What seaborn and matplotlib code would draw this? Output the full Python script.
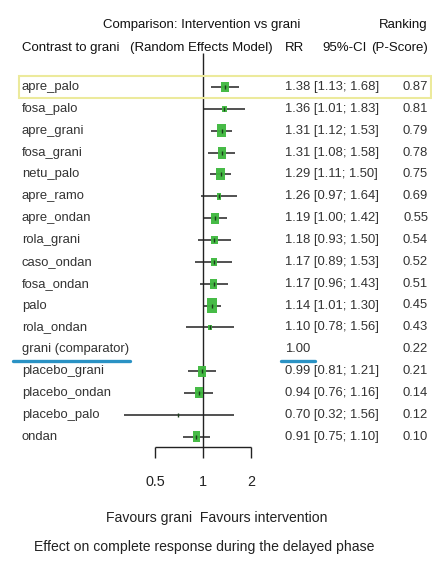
import numpy as np
import pandas as pd
import matplotlib
matplotlib.use("Agg")
import matplotlib.pyplot as plt
import seaborn as sns
from matplotlib.patches import Rectangle
from matplotlib.lines import Line2D
from matplotlib import font_manager as fm

# ---------------- data ----------------
labels = ["apre_palo", "fosa_palo", "apre_grani", "fosa_grani", "netu_palo",
          "apre_ramo", "apre_ondan", "rola_grani", "caso_ondan", "fosa_ondan",
          "palo", "rola_ondan", "grani (comparator)", "placebo_grani",
          "placebo_ondan", "placebo_palo", "ondan"]
rr = [1.38, 1.36, 1.31, 1.31, 1.29, 1.26, 1.19, 1.18, 1.17, 1.17,
      1.14, 1.10, 1.00, 0.99, 0.94, 0.70, 0.91]
ci_low = [1.13, 1.01, 1.12, 1.08, 1.11, 0.97, 1.00, 0.93, 0.89, 0.96,
          1.01, 0.78, np.nan, 0.81, 0.76, 0.32, 0.75]
ci_high = [1.68, 1.83, 1.53, 1.58, 1.50, 1.64, 1.42, 1.50, 1.53, 1.43,
           1.30, 1.56, np.nan, 1.21, 1.16, 1.56, 1.10]
pscore = [0.87, 0.81, 0.79, 0.78, 0.75, 0.69, 0.55, 0.54, 0.52, 0.51,
          0.45, 0.43, 0.22, 0.21, 0.14, 0.12, 0.10]
weights = [10, 3.6, 14.4, 12, 12, 3.6, 10, 6.4, 5, 8,
           19.6, 2.5, np.nan, 10, 10, 0.3, 10]
xticks = [0.5, 1, 2]
xtick_labels = ["0.5", "1", "2"]

df = pd.DataFrame({"label": labels, "rr": rr, "lo": ci_low, "hi": ci_high,
                   "p": pscore, "w": weights})
df["row"] = np.arange(len(df))

# ---------------- fonts ----------------
W, H = 432, 567
sns.set_theme(style="white")
FAMILY = ["Liberation Sans", "DejaVu Sans"]
plt.rcParams["font.family"] = FAMILY


def fprops(weight="normal"):
    return fm.FontProperties(family=FAMILY, weight=weight)


fig = plt.figure(figsize=(W / 100, H / 100), dpi=100)
fig.patch.set_facecolor("white")
renderer = fig.canvas.get_renderer()


def fit_size(sample, target_px, grow, weight="normal", base=10.0):
    fp = fprops(weight)
    fp.set_size(base)
    t = fig.text(0, 0, sample, fontproperties=fp)
    w = t.get_window_extent(renderer).width
    t.remove()
    return base * target_px / w * grow


S_ROW = fit_size("1.38 [1.13; 1.68]", 83, 1.12)
S_HDR = fit_size("(Random Effects Model)", 128, 1.12)
S_FOOT = fit_size("Effect on complete response during the delayed phase", 308, 1.1)
S_TICK = fit_size("0.5", 16, 1.25)

# ---------------- layout ----------------
X1PX, PX_PER_DOUBLE = 203.0, 48.0
ROW0PX, ROWSTEP = 87.0, 21.85


def xval(px):
    return 2 ** ((px - X1PX) / PX_PER_DOUBLE)


def rowv(py):
    return (py - ROW0PX) / ROWSTEP


ax_l, ax_r, ax_t, ax_b = 100, 290, 30, 480
ax = fig.add_axes([ax_l / W, 1 - ax_b / H, (ax_r - ax_l) / W, (ax_b - ax_t) / H])
ax.set_xscale("log", base=2)
ax.set_xlim(xval(ax_l), xval(ax_r))
ax.set_ylim(rowv(ax_b), rowv(ax_t))
ax.axis("off")

# reference line and bracket axis
ax.vlines(1, rowv(53), rowv(458), color="#222222", lw=1.0, clip_on=False)
ax.hlines(rowv(447), xticks[0], xticks[-1], color="#222222", lw=1.0, clip_on=False)
ax.vlines([xticks[0], xticks[-1]], rowv(447), rowv(458), color="#222222", lw=1.0,
          clip_on=False)
for v, t in zip(xticks, xtick_labels):
    fp = fprops()
    fp.set_size(S_TICK)
    ax.text(v, rowv(482), t, ha="center", va="center", fontproperties=fp,
            color="#222222")

# CI lines
d = df.dropna(subset=["lo"])
ax.hlines(d["row"], d["lo"], d["hi"], color="#222222", lw=1.1, zorder=2)

# squares
rect = [(-0.7, -1), (0.7, -1), (0.7, 1), (-0.7, 1), (-0.7, -1)]
dw = df.dropna(subset=["w"])
wmin, wmax = dw["w"].min(), dw["w"].max()
sns.scatterplot(data=dw, x="rr", y="row", size="w",
                sizes=(6.2 * wmin, 6.2 * wmax),
                size_norm=(wmin, wmax), marker=rect, color="#3db83d", alpha=0.95,
                linewidth=0, legend=False, ax=ax, zorder=3)
# centre ticks
ax.scatter(d["rr"], d["row"], marker="|", s=12, color="#1d3d1d", linewidths=1.0,
           zorder=4)


# ---------------- texts ----------------
def ftext(px, py, s, size, weight="normal", **kw):
    fp = fprops(weight)
    fp.set_size(size)
    fig.text(px / W, 1 - py / H, s, fontproperties=fp, **kw)


hdr = dict(color="#111111", va="center")
ftext(202, 25, "Comparison: Intervention vs grani", S_HDR, ha="center", **hdr)
ftext(428, 25, "Ranking", S_HDR, ha="right", **hdr)
ftext(22, 48, "Contrast to grani", S_HDR, ha="left", **hdr)
ftext(201, 48, "(Random Effects Model)", S_HDR, ha="center", **hdr)
ftext(295, 48, "RR", S_HDR, ha="center", **hdr)
ftext(345, 48, "95%-CI", S_HDR, ha="center", **hdr)
ftext(428, 48, "(P-Score)", S_HDR, ha="right", **hdr)

row_kw = dict(color="#333333", va="center")
for i, r in df.iterrows():
    py = ROW0PX + ROWSTEP * r["row"]
    ftext(22, py, r["label"], S_ROW, ha="left", **row_kw)
    if np.isnan(r["lo"]):
        s = f"{r['rr']:.2f}"
    else:
        s = f"{r['rr']:.2f} [{r['lo']:.2f}; {r['hi']:.2f}]"
    ftext(285, py, s, S_ROW, ha="left", **row_kw)
    ftext(428, py, f"{r['p']:.2f}", S_ROW, ha="right", **row_kw)

ftext(217, 518, "Favours grani  Favours intervention", S_FOOT, ha="center",
      va="center", color="#222222")
ftext(204, 547, "Effect on complete response during the delayed phase", S_FOOT,
      ha="center", va="center", color="#222222")

# highlight box and underlines (annotations)
fig.add_artist(Rectangle((19 / W, 1 - 98 / H), (431 - 19) / W, 22 / H,
                         transform=fig.transFigure, fill=False,
                         edgecolor="#ecea9c", lw=1.5))
fig.add_artist(Line2D([13 / W, 130 / W], [1 - 361 / H, 1 - 361 / H],
                      transform=fig.transFigure, color="#2a92c4", lw=2.4))
fig.add_artist(Line2D([281 / W, 315 / W], [1 - 361 / H, 1 - 361 / H],
                      transform=fig.transFigure, color="#2a92c4", lw=2.4))

fig.savefig("out.png", dpi=100, facecolor="white")
